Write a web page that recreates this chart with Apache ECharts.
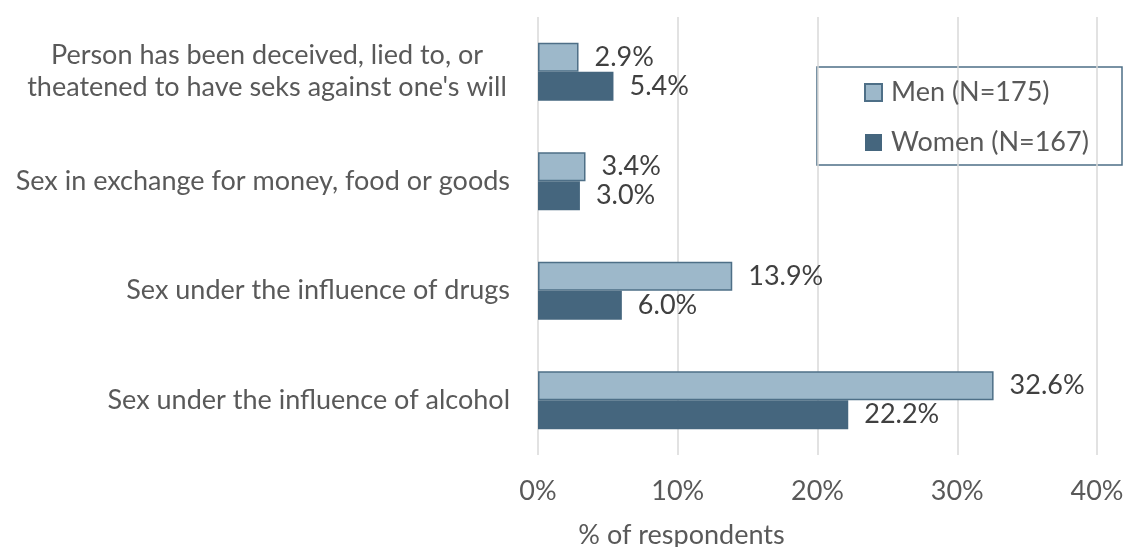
<!DOCTYPE html>
<html>
<head>
<meta charset="utf-8">
<script src="https://cdn.jsdelivr.net/npm/echarts@6/dist/echarts.min.js"></script>
<style>
  html, body { margin: 0; padding: 0; background: #fff; }
  #chart { width: 1125px; height: 547px; }
</style>
</head>
<body>
<div id="chart"></div>
<script>
// Categories listed bottom to top on the vertical axis
const categories = [
  'Sex under the influence of alcohol',
  'Sex under the influence of drugs',
  'Sex in exchange for money, food or goods',
  "Person has been deceived, lied to, or\ntheatened to have seks against one's will"
];
const menName = 'Men (N=175)';
const womenName = 'Women (N=167)';
const menValues = [32.6, 13.9, 3.4, 2.9];
const womenValues = [22.2, 6.0, 3.0, 5.4];
const xTicks = [0, 10, 20, 30, 40];

const FONT = 'Lato';
const FS = 27;

const chart = echarts.init(document.getElementById('chart'));

const pctLabel = p => p.value.toFixed(1) + '%';

chart.setOption({
  animation: false,
  textStyle: { fontFamily: FONT },
  grid: { left: 538, right: 28, top: 17, bottom: 92, containLabel: false, outerBoundsMode: 'none' },
  xAxis: {
    type: 'value',
    min: xTicks[0],
    max: xTicks[xTicks.length - 1],
    interval: xTicks[1] - xTicks[0],
    axisLine: { show: false },
    axisTick: { show: false },
    splitLine: { lineStyle: { color: '#D9D9D9', width: 1.5 } },
    axisLabel: {
      formatter: '{value}%',
      color: '#595959',
      fontFamily: FONT,
      fontSize: FS,
      margin: 23
    },
    name: '% of respondents',
    nameLocation: 'middle',
    nameGap: 67,
    nameTextStyle: {
      color: '#595959',
      fontFamily: FONT,
      fontSize: FS,
      padding: [0, 272, 0, 0]
    }
  },
  yAxis: {
    type: 'category',
    data: categories,
    axisLine: { show: false },
    axisTick: { show: false },
    axisLabel: {
      color: '#595959',
      fontFamily: FONT,
      fontSize: FS,
      margin: 28,
      lineHeight: 32,
      formatter: v => v.indexOf('\n') >= 0
        ? v.split('\n').map(s => '{c|' + s + '}').join('\n')
        : v,
      rich: {
        c: { width: 486, align: 'center', color: '#595959', fontFamily: FONT, fontSize: FS, lineHeight: 32 }
      }
    }
  },
  legend: {
    orient: 'vertical',
    left: 864,
    top: 79,
    padding: 0,
    itemWidth: 17,
    itemHeight: 17,
    itemGap: 23,
    icon: 'rect',
    data: [menName, womenName],
    textStyle: { color: '#595959', fontFamily: FONT, fontSize: FS, lineHeight: 27, padding: [0, 0, 0, 4] }
  },
  graphic: [{
    type: 'rect',
    shape: { x: 817, y: 67, width: 305, height: 98 },
    style: { fill: 'none', stroke: '#4E6F87', lineWidth: 1.5 },
    silent: true
  }],
  series: [
    {
      name: menName,
      type: 'bar',
      data: menValues,
      barWidth: 29,
      barGap: '0%',
      itemStyle: { color: '#9DB8CA', borderColor: '#4E6F87', borderWidth: 1.5 },
      label: {
        show: true, position: 'right', distance: 16,
        formatter: pctLabel, color: '#404040', fontFamily: FONT, fontSize: FS
      }
    },
    {
      name: womenName,
      type: 'bar',
      data: womenValues,
      barWidth: 29,
      barGap: '0%',
      itemStyle: { color: '#45667E' },
      label: {
        show: true, position: 'right', distance: 16,
        formatter: pctLabel, color: '#404040', fontFamily: FONT, fontSize: FS
      }
    }
  ]
});
</script>
</body>
</html>
